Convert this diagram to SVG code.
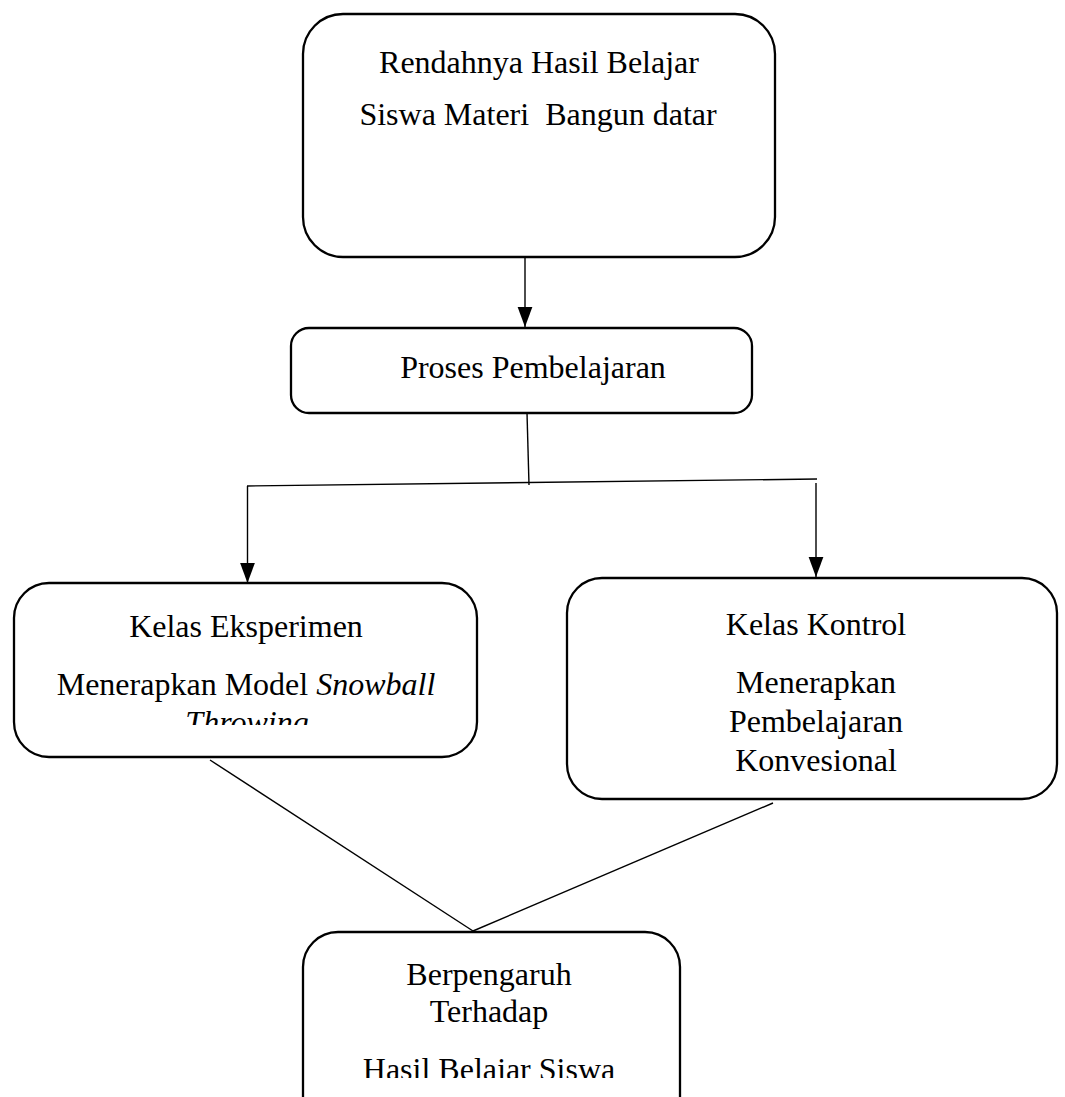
<svg xmlns="http://www.w3.org/2000/svg" width="1065" height="1097" viewBox="0 0 1065 1097">
<defs>
<style>
.box{fill:#fff;stroke:#000;stroke-width:2.3}
.t{font-family:"Liberation Serif","Times New Roman",serif;font-size:32px;fill:#000;text-anchor:middle}
.c{fill:none;stroke:#000;stroke-width:1.4}
</style>
<marker id="ad" markerUnits="userSpaceOnUse" markerWidth="20" markerHeight="16" refX="19" refY="7" orient="auto" viewBox="0 0 19 14">
<path d="M0,0 L19,7 L0,14 Z" fill="#000"/>
</marker>
<clipPath id="clipL"><rect x="14" y="583" width="463" height="142"/></clipPath>
<clipPath id="clipB"><rect x="303" y="932" width="377" height="146"/></clipPath>
</defs>
<rect width="1065" height="1097" fill="#fff"/>
<g id="connectors">
<line class="c" x1="525" y1="257" x2="525" y2="327" marker-end="url(#ad)"/>
<line class="c" x1="527" y1="413" x2="529" y2="485"/>
<line class="c" x1="247" y1="486" x2="817" y2="479"/>
<line class="c" x1="247.5" y1="486" x2="247.5" y2="583" marker-end="url(#ad)"/>
<line class="c" x1="816" y1="483" x2="816" y2="577" marker-end="url(#ad)"/>
<line class="c" x1="210" y1="760" x2="473" y2="931"/>
<line class="c" x1="473" y1="931" x2="773" y2="803"/>
</g>
<g id="node-rendahnya">
<rect class="box" x="303" y="14" width="472" height="243" rx="40"/>
<text class="t" x="539" y="73">Rendahnya Hasil Belajar</text>
<text class="t" x="538" y="125" xml:space="preserve">Siswa Materi  Bangun datar</text>
</g>
<g id="node-proses">
<rect class="box" x="291" y="328" width="461" height="85" rx="18"/>
<text class="t" x="533" y="378">Proses Pembelajaran</text>
</g>
<g id="node-eksperimen">
<rect class="box" x="14" y="583" width="463" height="174" rx="35"/>
<text class="t" x="246" y="637">Kelas Eksperimen</text>
<text class="t" x="246" y="695">Menerapkan Model <tspan font-style="italic">Snowball</tspan></text>
<text class="t" x="247" y="733" font-style="italic" clip-path="url(#clipL)">Throwing</text>
</g>
<g id="node-kontrol">
<rect class="box" x="567" y="578" width="490" height="221" rx="35"/>
<text class="t" x="816" y="635">Kelas Kontrol</text>
<text class="t" x="816" y="693">Menerapkan</text>
<text class="t" x="816" y="732">Pembelajaran</text>
<text class="t" x="816" y="771">Konvesional</text>
</g>
<g id="node-berpengaruh">
<rect class="box" x="303" y="932" width="377" height="200" rx="35"/>
<text class="t" x="489" y="985">Berpengaruh</text>
<text class="t" x="489" y="1022">Terhadap</text>
<text class="t" x="489" y="1080" clip-path="url(#clipB)">Hasil Belajar Siswa</text>
</g>
</svg>
